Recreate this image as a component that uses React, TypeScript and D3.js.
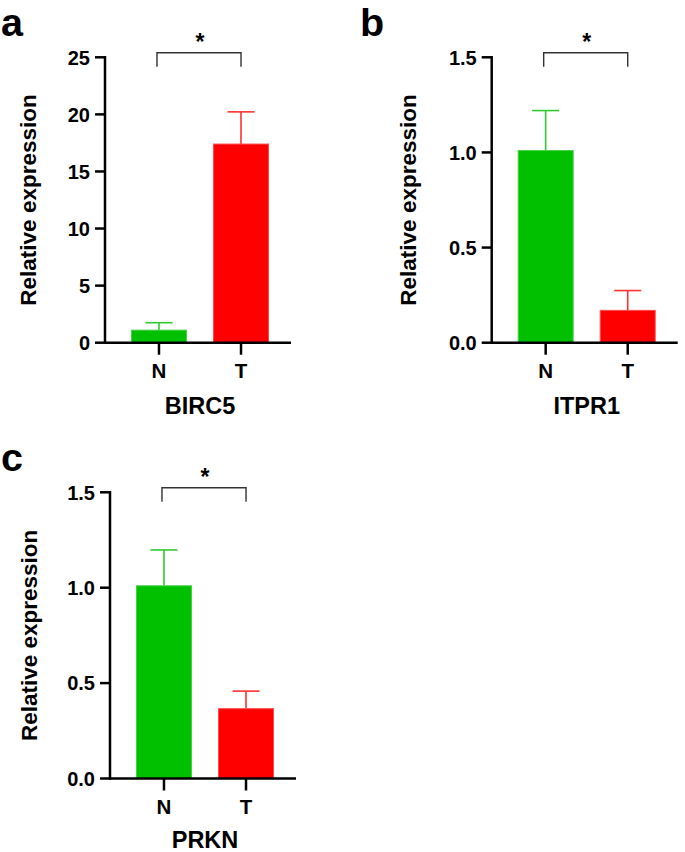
import React from "react";
import * as d3 from "d3";

const groups = ["N", "T"];
const genes = ["BIRC5", "ITPR1", "PRKN"];
const panelLetters = ["a", "b", "c"];

const birc5Means = [1.1, 17.4];
const birc5Errs = [0.65, 2.82];
const itpr1Means = [1.01, 0.17];
const itpr1Errs = [0.21, 0.104];
const prknMeans = [1.01, 0.366];
const prknErrs = [0.188, 0.092];

const yMaxes = [25, 1.5, 1.5];
const birc5Ticks = [0, 5, 10, 15, 20, 25];
const birc5TickLabels = ["0", "5", "10", "15", "20", "25"];
const fracTicks = [0, 0.5, 1.0, 1.5];
const fracTickLabels = ["0.0", "0.5", "1.0", "1.5"];
const sigLabels = ["*", "*", "*"];

const barColors = ["#00C000", "#FF0000"];
const barEdges = ["#45d045", "#ff4a4a"];
const errColors = ["#2fcb2f", "#ff3030"];

const FONT = "'Liberation Sans', Arial, Helvetica, sans-serif";

type PanelLayout = {
  ox: number;
  top: number;
  bottom: number;
  letterX: number;
  letterY: number;
  titleX: number;
  titleDy: number;
};

const layouts: PanelLayout[] = [
  { ox: 105, top: 57.3, bottom: 342.7, letterX: 1, letterY: 36, titleX: 36, titleDy: 71.5 },
  { ox: 491.7, top: 57.3, bottom: 342.7, letterX: 360, letterY: 36, titleX: 416, titleDy: 71.5 },
  { ox: 110, top: 492.3, bottom: 778.5, letterX: 1, letterY: 471, titleX: 37, titleDy: 69.5 },
];

const panelData = [
  { gene: genes[0], means: birc5Means, errs: birc5Errs, ticks: birc5Ticks, tickLabels: birc5TickLabels, yMax: yMaxes[0] },
  { gene: genes[1], means: itpr1Means, errs: itpr1Errs, ticks: fracTicks, tickLabels: fracTickLabels, yMax: yMaxes[1] },
  { gene: genes[2], means: prknMeans, errs: prknErrs, ticks: fracTicks, tickLabels: fracTickLabels, yMax: yMaxes[2] },
];

function Panel({ idx }: { idx: number }) {
  const L = layouts[idx];
  const D = panelData[idx];
  const x = d3
    .scaleBand<string>()
    .domain(groups)
    .range([L.ox, L.ox + 190])
    .paddingInner(0.33)
    .paddingOuter(0.323);
  const y = d3.scaleLinear().domain([0, D.yMax]).range([L.bottom, L.top]);
  const bw = x.bandwidth();
  const cx = (g: string) => (x(g) as number) + bw / 2;
  const axisW = 2.5;
  const axisRight = L.ox + 186;
  const bracketY = L.top - 4.5;
  const midX = (cx(groups[0]) + cx(groups[1])) / 2;
  const capW = 27;

  return (
    <g>
      <text x={L.letterX} y={L.letterY} fontFamily={FONT} fontWeight="bold" fontSize={39.5} fill="#000">
        {panelLetters[idx]}
      </text>
      {groups.map((g, i) => (
        <g key={g}>
          <line
            x1={cx(g)}
            x2={cx(g)}
            y1={y(D.means[i])}
            y2={y(D.means[i] + D.errs[i])}
            stroke={errColors[i]}
            strokeWidth={1.6}
          />
          <line
            x1={cx(g) - capW / 2}
            x2={cx(g) + capW / 2}
            y1={y(D.means[i] + D.errs[i])}
            y2={y(D.means[i] + D.errs[i])}
            stroke={errColors[i]}
            strokeWidth={1.6}
          />
          <rect
            x={x(g) as number}
            y={y(D.means[i])}
            width={bw}
            height={y(0) - y(D.means[i])}
            fill={barColors[i]}
            stroke={barEdges[i]}
            strokeWidth={1}
          />
        </g>
      ))}
      <line x1={L.ox} x2={L.ox} y1={L.top - axisW / 2} y2={L.bottom + axisW / 2} stroke="#000" strokeWidth={axisW} />
      {D.ticks.map((t, i) => (
        <g key={t}>
          <line x1={L.ox - 10} x2={L.ox} y1={y(t)} y2={y(t)} stroke="#000" strokeWidth={axisW} />
          <text
            x={L.ox - 15}
            y={y(t)}
            dy="0.36em"
            textAnchor="end"
            fontFamily={FONT}
            fontWeight="bold"
            fontSize={20}
            fill="#000"
          >
            {D.tickLabels[i]}
          </text>
        </g>
      ))}
      <line x1={L.ox} x2={axisRight} y1={L.bottom} y2={L.bottom} stroke="#000" strokeWidth={axisW} />
      {groups.map((g) => (
        <g key={g}>
          <line x1={cx(g)} x2={cx(g)} y1={L.bottom} y2={L.bottom + 12} stroke="#000" strokeWidth={axisW} />
          <text
            x={cx(g)}
            y={L.bottom + 35.5}
            textAnchor="middle"
            fontFamily={FONT}
            fontWeight="bold"
            fontSize={20.5}
            fill="#000"
          >
            {g}
          </text>
        </g>
      ))}
      <text
        x={midX}
        y={L.bottom + L.titleDy}
        textAnchor="middle"
        fontFamily={FONT}
        fontWeight="bold"
        fontSize={23.5}
        fill="#000"
      >
        {D.gene}
      </text>
      <text
        transform={`translate(${L.titleX},${(L.top + L.bottom) / 2}) rotate(-90)`}
        textAnchor="middle"
        fontFamily={FONT}
        fontWeight="bold"
        fontSize={22.5}
        fill="#000"
      >
        Relative expression
      </text>
      <path
        d={`M${cx(groups[0]) - 2},${bracketY + 14} V${bracketY} H${cx(groups[1])} V${bracketY + 14}`}
        fill="none"
        stroke="#333"
        strokeWidth={1.4}
      />
      <text
        x={midX}
        y={bracketY - 3}
        textAnchor="middle"
        fontFamily={FONT}
        fontWeight="bold"
        fontSize={23}
        fill="#000"
      >
        {sigLabels[idx]}
      </text>
    </g>
  );
}

export default function App() {
  return (
    <svg
      width={685}
      height={852}
      viewBox="0 0 685 852"
      style={{ position: "absolute", left: 0, top: 0, background: "#fff" }}
    >
      <rect x={0} y={0} width={685} height={852} fill="#fff" />
      {panelData.map((_, i) => (
        <Panel key={i} idx={i} />
      ))}
    </svg>
  );
}
